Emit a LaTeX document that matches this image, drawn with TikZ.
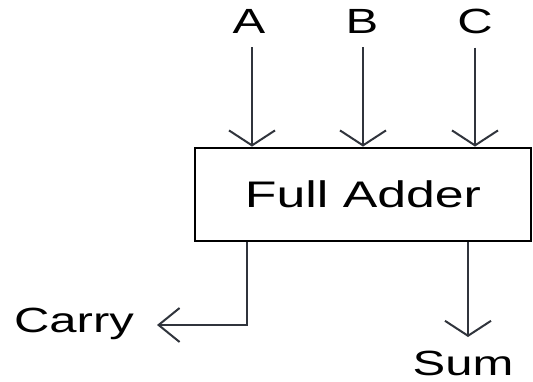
\documentclass[tikz,border=0pt]{standalone}
\usepackage{fontspec}
\setmainfont{Liberation Sans}
\usetikzlibrary{arrows.meta}
\definecolor{wire}{HTML}{30343C}
\begin{document}
\begin{tikzpicture}[x=1pt,y=-1pt,
  lbl/.style={inner sep=0pt,anchor=base,font=\fontsize{35}{40}\selectfont},
  vin/.style={draw=wire,line width=2.2pt,-{Straight Barb[length=15pt,width=46pt,line width=2pt]}},
  hout/.style={draw=wire,line width=2.2pt,-{Straight Barb[length=21pt,width=34pt,line width=2pt]}},
  blk/.style={draw=black,line width=2.8pt,minimum width=336pt,minimum height=93pt,inner sep=0pt,font=\fontsize{37}{42}\selectfont}]
\useasboundingbox (0,0) rectangle (533,381);
\node[blk] (fa) at (363,194.5) {\scalebox{1.4}[1]{Full Adder}};
\node[lbl] (A) at (249,33) {\scalebox{1.4}[1]{A}};
\node[lbl] (B) at (362,33) {\scalebox{1.4}[1]{B}};
\node[lbl] (C) at (475,33) {\scalebox{1.4}[1]{C}};
\node[lbl] (carry) at (74,332) {\scalebox{1.4}[1]{Carry}};
\node[lbl] (sum) at (463,375) {\scalebox{1.4}[1]{Sum}};
\coordinate (ct) at (157,325);
\coordinate (st) at (468,337);
\draw[vin] ([xshift=3pt,yshift=-14pt]A.south) -- ([xshift=3pt]A.south |- fa.north);
\draw[vin] ([xshift=1pt,yshift=-14pt]B.south) -- ([xshift=1pt]B.south |- fa.north);
\draw[vin] ([yshift=-14pt]C.south) -- (C.south |- fa.north);
\draw[hout] (fa.south -| 247,0) |- (ct);
\draw[vin] (fa.south -| st) -- (st);
\end{tikzpicture}
\end{document}
